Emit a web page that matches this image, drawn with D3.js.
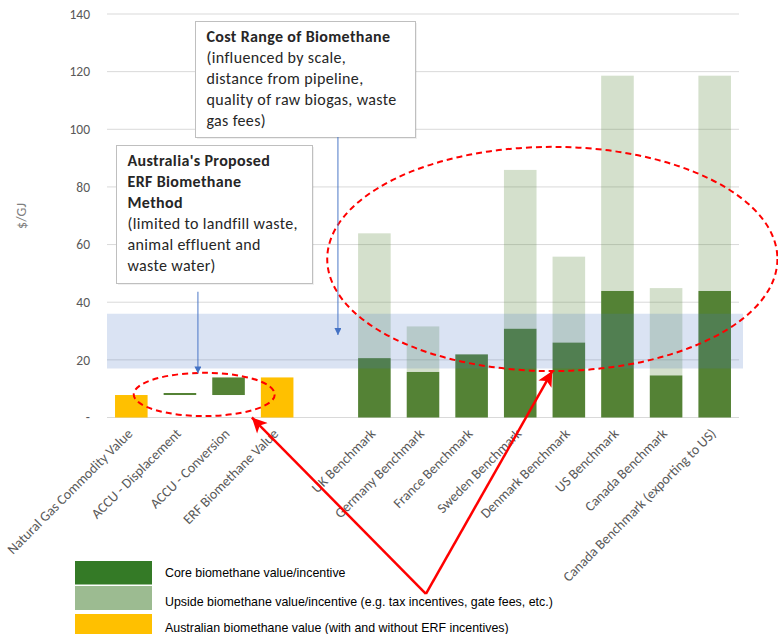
<!DOCTYPE html>
<html>
<head>
<meta charset="utf-8">
<script src="https://cdnjs.cloudflare.com/ajax/libs/d3/7.8.5/d3.min.js"></script>
<style>
  html, body { margin: 0; padding: 0; background: #fff; }
  svg { display: block; }
</style>
</head>
<body>
<svg id="chart" width="778" height="634"></svg>
<script>
// ---------- data ----------
const categories = [
  "Natural Gas Commodity Value",
  "ACCU - Displacement",
  "ACCU - Conversion",
  "ERF Biomethane Value",
  "",
  "UK Benchmark",
  "Germany Benchmark",
  "France Benchmark",
  "Sweden Benchmark",
  "Denmark Benchmark",
  "US Benchmark",
  "Canada Benchmark",
  "Canada Benchmark (exporting to US)"
];
// Australian bars (yellow) : [category, value]
const australianValues = [
  ["Natural Gas Commodity Value", 7.8],
  ["ERF Biomethane Value", 13.9]
];
// floating ERF increments (green) : [category, base, top]
const erfSteps = [
  ["ACCU - Displacement", 7.8, 8.5],
  ["ACCU - Conversion", 7.8, 13.9]
];
// benchmark core value and total (core + upside)
const benchmarks = ["UK Benchmark","Germany Benchmark","France Benchmark","Sweden Benchmark",
  "Denmark Benchmark","US Benchmark","Canada Benchmark","Canada Benchmark (exporting to US)"];
const coreValues  = [20.6, 15.8, 21.9, 30.8, 26.0, 43.9, 14.6, 43.9];
const totalValues = [63.9, 31.6, 21.9, 85.9, 55.8, 118.6, 44.9, 118.6];
// cost range of biomethane band
const costRange = [17, 36];
const yTicks = [0, 20, 40, 60, 80, 100, 120, 140];
const legendLabels = [
  "Core biomethane value/incentive",
  "Upside biomethane value/incentive (e.g. tax incentives, gate fees, etc.)",
  "Australian biomethane value (with and without ERF incentives)"
];

// ---------- setup ----------
const svg = d3.select("#chart");
const FONT = "Carlito, Lato, sans-serif";
const plot = { left: 107, right: 739, top: 14, bottom: 417.5 };

const x = d3.scaleBand().domain(categories).range([plot.left, plot.right])
  .paddingInner(0.33).paddingOuter(0.165);
const y = d3.scaleLinear().domain([0, 140]).range([plot.bottom, plot.top]);
const step = x.step();
const x0 = x(categories[0]) + x.bandwidth() / 2;
const xi = i => x0 + i * step;   // fractional category index -> px

const colDark = "#548235", colYellow = "#FFC000";

// gridlines
svg.append("g").selectAll("line").data(yTicks).join("line")
  .attr("x1", plot.left).attr("x2", plot.right)
  .attr("y1", d => y(d)).attr("y2", d => y(d))
  .attr("stroke", "#D9D9D9").attr("stroke-width", 1);

// y axis labels
const yAxis = d3.axisLeft(y).tickValues(yTicks).tickSize(0).tickPadding(0)
  .tickFormat(d => d === 0 ? "-" : d);
const gy = svg.append("g").attr("transform", `translate(${plot.left - 17},0)`).call(yAxis);
gy.select(".domain").remove();
gy.selectAll("text").attr("font-family", FONT).attr("font-size", 13.5).attr("fill", "#595959");

svg.append("text").attr("transform", `translate(26,216) rotate(-90)`)
  .attr("text-anchor", "middle").attr("font-family", FONT).attr("font-size", 14)
  .attr("fill", "#7F7F7F").text("$/GJ");

// bars
svg.append("g").selectAll("rect").data(australianValues).join("rect")
  .attr("x", d => x(d[0])).attr("width", x.bandwidth())
  .attr("y", d => y(d[1])).attr("height", d => y(0) - y(d[1]))
  .attr("fill", colYellow);

svg.append("g").selectAll("rect").data(erfSteps).join("rect")
  .attr("x", d => x(d[0])).attr("width", x.bandwidth())
  .attr("y", d => y(d[2])).attr("height", d => y(d[1]) - y(d[2]))
  .attr("fill", colDark);

const bench = benchmarks.map((c, i) => ({ c, core: coreValues[i], total: totalValues[i] }));
svg.append("g").selectAll("rect").data(bench).join("rect")
  .attr("x", d => x(d.c)).attr("width", x.bandwidth())
  .attr("y", d => y(d.core)).attr("height", d => y(0) - y(d.core))
  .attr("fill", colDark);
svg.append("g").selectAll("rect").data(bench.filter(d => d.total > d.core)).join("rect")
  .attr("x", d => x(d.c)).attr("width", x.bandwidth())
  .attr("y", d => y(d.total)).attr("height", d => y(d.core) - y(d.total))
  .attr("fill", colDark).attr("fill-opacity", 0.25);

// cost range band
svg.append("rect").attr("x", plot.left).attr("width", plot.right + 4 - plot.left)
  .attr("y", y(costRange[1])).attr("height", y(costRange[0]) - y(costRange[1]))
  .attr("fill", "#4472C4").attr("fill-opacity", 0.2);

// x labels
svg.append("g").selectAll("text").data(categories.filter(c => c !== "")).join("text")
  .attr("transform", d => `translate(${x(d) + x.bandwidth() / 2 + 2},${plot.bottom + 17}) rotate(-45)`)
  .attr("text-anchor", "end").attr("font-family", FONT).attr("font-size", 14)
  .attr("fill", "#595959").text(d => d);

// ---------- annotations ----------
const defs = svg.append("defs");
defs.append("marker").attr("id", "blueHead").attr("viewBox", "0 0 10 10")
  .attr("refX", 10).attr("refY", 5).attr("markerWidth", 7).attr("markerHeight", 7)
  .attr("markerUnits", "userSpaceOnUse").attr("orient", "auto")
  .append("path").attr("d", "M0,0 L10,5 L0,10 Z").attr("fill", "#4472C4");
defs.append("marker").attr("id", "redHead").attr("viewBox", "0 0 10 10")
  .attr("refX", 10).attr("refY", 5).attr("markerWidth", 17).attr("markerHeight", 15)
  .attr("markerUnits", "userSpaceOnUse").attr("orient", "auto")
  .append("path").attr("d", "M0,0 L10,5 L0,10 L2.5,5 Z").attr("fill", "#FF0000");

// red dashed ellipses
const ellipses = [
  { cx: 1.5, cy: 8.0, rx: 1.45, ry: 7.5 },
  { cx: 8.66, cy: 55, rx: 4.63, ry: 38.9 }
];
svg.append("g").selectAll("ellipse").data(ellipses).join("ellipse")
  .attr("cx", d => xi(d.cx)).attr("cy", d => y(d.cy))
  .attr("rx", d => d.rx * step).attr("ry", d => y(0) - y(d.ry))
  .attr("fill", "none").attr("stroke", "#FF0000").attr("stroke-width", 2)
  .attr("stroke-dasharray", "6,4");

// boxes
function box(left, top, right, bottom, lines) {
  const g = svg.append("g");
  g.append("rect").attr("x", left + 1.5).attr("y", top + 1.5).attr("width", right - left).attr("height", bottom - top)
    .attr("fill", "#000").attr("fill-opacity", 0.06);
  g.append("rect").attr("x", left).attr("y", top).attr("width", right - left).attr("height", bottom - top)
    .attr("fill", "#fff").attr("stroke", "#BFBFBF").attr("stroke-width", 1);
  lines.forEach((l, i) => {
    g.append("text").attr("x", left + 11).attr("y", top + 20.5 + i * 21)
      .attr("font-family", FONT).attr("font-size", 16).attr("letter-spacing", 0.35)
      .attr("font-weight", l.b ? 700 : 400)
      .attr("fill", "#262626").text(l.t);
  });
}
box(195.5, 21.5, 415.5, 137.5, [
  { t: "Cost Range of Biomethane", b: true },
  { t: "(influenced by scale," },
  { t: "distance from pipeline," },
  { t: "quality of raw biogas, waste" },
  { t: "gas fees)" }
]);
box(116.5, 145.5, 312.5, 283.5, [
  { t: "Australia's Proposed", b: true },
  { t: "ERF Biomethane", b: true },
  { t: "Method", b: true },
  { t: "(limited to landfill waste," },
  { t: "animal effluent and" },
  { t: "waste water)" }
]);

// blue arrows
const blueArrows = [
  { x: 1.37, y1: 43.6, y2: 15.3 },
  { x: 4.25, y1: 97.3, y2: 28.6 }
];
svg.append("g").selectAll("line").data(blueArrows).join("line")
  .attr("x1", d => xi(d.x)).attr("x2", d => xi(d.x))
  .attr("y1", d => y(d.y1)).attr("y2", d => y(d.y2))
  .attr("stroke", "#4472C4").attr("stroke-width", 1.2).attr("stroke-opacity", 0.8)
  .attr("marker-end", "url(#blueHead)");

// red arrows from common vertex
const vertex = { x: 6.06, y: -61.2 };
const redTargets = [ { x: 2.48, y: 0 }, { x: 8.66, y: 16.1 } ];
svg.append("g").selectAll("line").data(redTargets).join("line")
  .attr("x1", xi(vertex.x)).attr("y1", y(vertex.y))
  .attr("x2", d => xi(d.x)).attr("y2", d => y(d.y))
  .attr("stroke", "#FF0000").attr("stroke-width", 2.5)
  .attr("marker-end", "url(#redHead)");

// legend
const legendColors = ["#347A26", "#9CBB91", "#FFC000"];
const legendRows = [ [561, 584.5], [586, 610], [614, 640] ];
const legendBaselines = [577, 606, 631.5];
const lg = svg.append("g");
legendLabels.forEach((t, i) => {
  lg.append("rect").attr("x", 75).attr("y", legendRows[i][0]).attr("width", 77)
    .attr("height", legendRows[i][1] - legendRows[i][0]).attr("fill", legendColors[i]);
  lg.append("text").attr("x", 165).attr("y", legendBaselines[i])
    .attr("font-family", "Liberation Sans, Arial, sans-serif").attr("font-size", 12.4)
    .attr("fill", "#000").text(t);
});
</script>
</body>
</html>
